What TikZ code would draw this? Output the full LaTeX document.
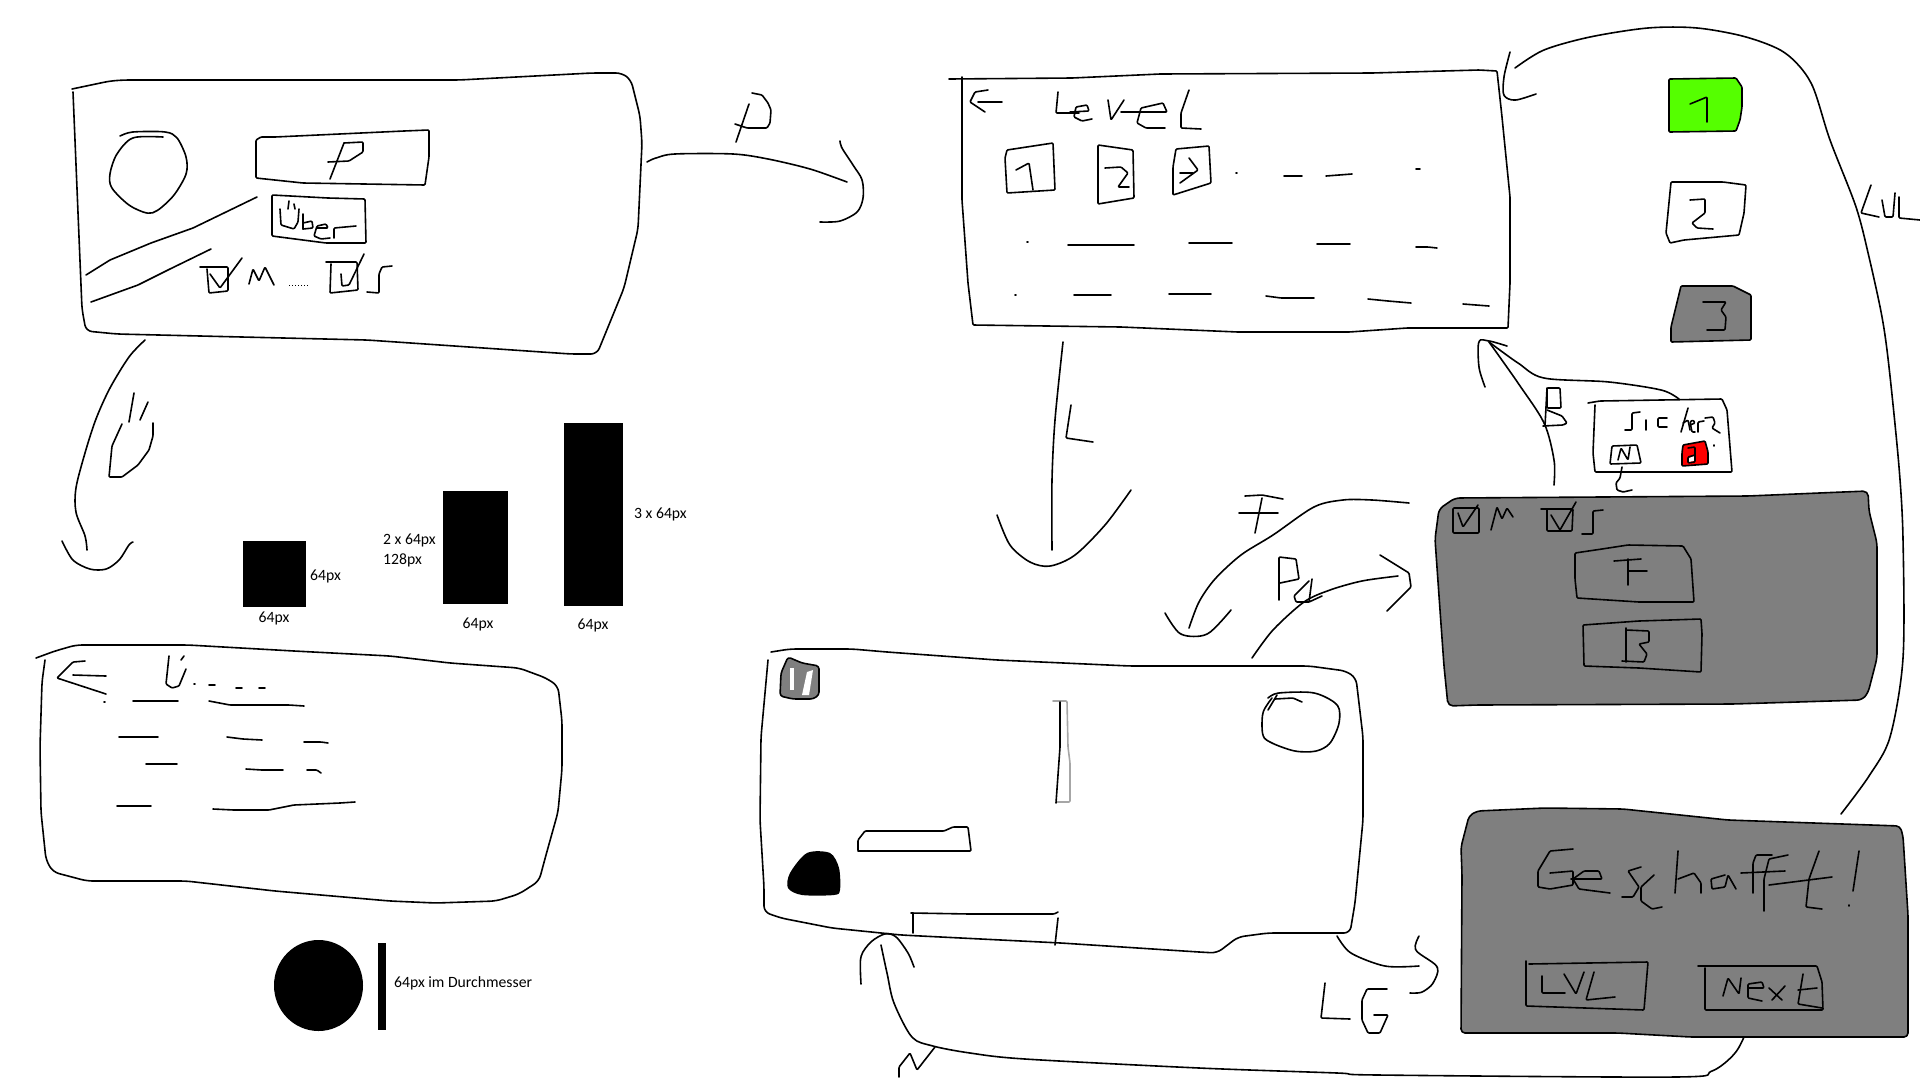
\documentclass[tikz,border=0pt]{standalone}
\usepackage{fontspec}
\setmainfont{Carlito}
\definecolor{panelgray}{HTML}{7F7F7F}
\definecolor{levelgreen}{HTML}{55FF00}
\definecolor{popupred}{HTML}{FF0000}
\tikzset{
    ink/.style={line width=1.6pt,line join=round,line cap=round,rounded corners=1pt},
    sizelabel/.style={inner sep=0pt,font=\fontsize{15.7}{18}\selectfont},
}
\begin{document}
\begin{tikzpicture}[x=1pt,y=-1pt]
    \useasboundingbox (0,0) rectangle (1920,1080);

    % main menu
    \draw[ink,rounded corners=6pt] (72,89) -- (110,81) -- (124,80) -- (459,80) -- (592,73) -- (622,73) -- (631,80) -- (640,116) -- (642,143) -- (638,229) -- (624,288) -- (597,354) -- (571,354) -- (367,340) -- (117,334) -- (86,331) -- (82,309) -- (73,92);
    \draw[ink] plot[smooth] coordinates {(120,136) (133,132) (165,132) (177,138) (186,157) (186,174) (174,195) (158,210) (147,213) (129,205) (112,188) (110,174) (117,154) (133,138) (163,137)};
    \draw[ink] (261,137) -- (275,137) -- (404,131) -- (429,130) -- (429,157) -- (425,185) -- (303,183) -- (256,178) -- (256,140) -- cycle;
    \draw[ink] (344,143) -- (330,179);
    \draw[ink] (344,143) -- (363,142) -- (363,152) -- (349,161) -- (328,162);
    \draw[ink] (272,195) -- (328,198) -- (365,199) -- (366,243) -- (326,243) -- (272,236) -- cycle;
    \draw[ink] (280,209) -- (281,225) -- (294,229) -- (298,222) -- (299,209);
    \draw[ink] (289,201) -- (288,209);
    \draw[ink] (294,204) -- (295,209);
    \draw[ink] (303,214) -- (303,229);
    \draw[ink] (303,223) -- (312,221) -- (313,228) -- (303,229);
    \draw[ink] (317,228) -- (328,228) -- (326,224) -- (317,226) -- (314,236) -- (321,239) -- (330,238);
    \draw[ink] (334,238) -- (334,228) -- (356,226);
    \draw[ink] (86,275) -- (110,260) -- (151,243) -- (193,228) -- (257,197);
    \draw[ink] (91,302) -- (138,285) -- (170,269) -- (211,249);
    \draw[ink] (200,267) -- (228,267) -- (228,291) -- (209,293) -- (207,269);
    \draw[ink] (210,274) -- (220,288) -- (242,258);
    \draw[ink] (249,284) -- (253,269) -- (259,281) -- (265,267) -- (274,285);
    \draw[line width=1pt,dotted] (289,285) -- (308,285);
    \draw[ink] (326,262) -- (357,262) -- (358,290) -- (330,293) -- (331,264);
    \draw[ink] (341,274) -- (342,286) -- (349,285) -- (364,254);
    \draw[ink] (367,292) -- (379,293) -- (379,274) -- (382,267) -- (392,266);

    % menu to level select
    \draw[ink] plot[smooth] coordinates {(647,162) (656,158) (675,154) (733,154) (768,159) (810,169) (847,182)};
    \draw[ink] plot[smooth] coordinates {(840,141) (842,148) (853,165) (862,180) (863,198) (857,212) (840,221) (820,222)};
    \draw[ink] (749,104) -- (736,142);
    \draw[ink] (752,93) -- (762,95) -- (768,103) -- (771,110) -- (770,123) -- (767,128) -- (747,128) -- (735,124);

    % menu to about
    \draw[ink] plot[smooth] coordinates {(145,340) (129,357) (110,388) (96,419) (85,453) (76,488) (76,512) (85,536) (87,550)};
    \draw[ink] plot[smooth] coordinates {(62,541) (73,560) (90,569) (106,569) (119,560) (129,545) (133,542)};
    \draw[ink] (122,424) -- (112,446) -- (109,477) -- (122,477) -- (138,465) -- (149,450) -- (153,436) -- (153,423);
    \draw[ink] (134,393) -- (129,422);
    \draw[ink] (148,402) -- (140,420);

    % size notes
    \fill (243,541) rectangle (306,607);
    \fill (443,491) rectangle (508,604);
    \fill (564,423) rectangle (623,606);
    \fill (318.5,985.5) ellipse (44.5 and 45.5);
    \fill (378,943) rectangle (385.5,1030);
    \node[sizelabel,anchor=west] (boxside) at (310,576.5) {64px};
    \node[sizelabel] (boxbase) at (274,618.5) {64px};
    \node[sizelabel,anchor=west] (tallside) at (383,540.5) {2 x 64px};
    \node[sizelabel,anchor=west] (tallpx) at (383,560.5) {128px};
    \node[sizelabel] (tallbase) at (478,624.5) {64px};
    \node[sizelabel] (longbase) at (593,625.5) {64px};
    \node[sizelabel,anchor=west] (longside) at (634,514.5) {3 x 64px};
    \node[sizelabel,anchor=west] (ballnote) at (394,983) {64px im Durchmesser};

    % about screen
    \draw[ink,rounded corners=6pt] (36,658) -- (55,651) -- (76,645) -- (188,645) -- (294,651) -- (390,656) -- (450,663) -- (519,668) -- (546,678) -- (558,686) -- (562,721) -- (562,769) -- (558,812) -- (546,855) -- (539,881) -- (519,894) -- (496,901) -- (436,903) -- (390,901) -- (275,891) -- (186,881) -- (87,881) -- (53,872) -- (46,860) -- (41,812) -- (40,747) -- (42,682) -- (45,660);
    \draw[ink] (85,661) -- (73,662) -- (57,678) -- (106,694);
    \draw[ink] (73,675) -- (106,676);
    \draw[ink] (169,656) -- (166,684) -- (172,688) -- (179,686) -- (186,669);
    \draw[ink] (184,656) -- (181,660);
    \draw[ink] (194,684) -- (195,684);
    \draw[ink] (209,685) -- (215,685);
    \draw[ink] (236,688) -- (242,688);
    \draw[ink] (259,688) -- (265,688);
    \draw[ink] (104,702) -- (105,702);
    \draw[ink] (133,701) -- (178,701);
    \draw[ink] (209,701) -- (230,705) -- (289,705) -- (304,706);
    \draw[ink] (119,737) -- (158,737);
    \draw[ink] (227,737) -- (243,739) -- (262,740);
    \draw[ink] (304,742) -- (321,742) -- (328,743);
    \draw[ink] (146,764) -- (177,764);
    \draw[ink] (246,769) -- (262,770) -- (283,770);
    \draw[ink] (307,770) -- (317,770) -- (321,773);
    \draw[ink] (117,806) -- (151,806);
    \draw[ink] (213,809) -- (234,810) -- (269,810) -- (294,805) -- (340,803) -- (355,802);

    % level select
    \draw[ink] (949,79) -- (1072,78) -- (1160,74) -- (1372,73) -- (1479,70) -- (1497,71) -- (1502,117) -- (1510,197) -- (1510,283) -- (1508,328) -- (1407,328) -- (1349,332) -- (1238,332) -- (1121,327) -- (973,325) -- (968,283) -- (962,200) -- (962,77);
    \draw[ink] (988,90) -- (975,92) -- (970,102) -- (985,112);
    \draw[ink] (978,102) -- (1002,102);
    \draw[ink] (1058,92) -- (1056,113) -- (1079,113);
    \draw[ink] (1070,112) -- (1089,111) -- (1087,105) -- (1076,107) -- (1074,117) -- (1082,121) -- (1092,119);
    \draw[ink] (1108,100) -- (1111,120) -- (1124,100);
    \draw[ink] (1121,112) -- (1167,112) -- (1163,103) -- (1141,108) -- (1137,123) -- (1146,128) -- (1165,128);
    \draw[ink] (1189,90) -- (1181,113) -- (1181,128) -- (1201,129);
    \draw[ink] (1007,150) -- (1053,143) -- (1055,190) -- (1007,193) -- (1005,158) -- cycle;
    \draw[ink] (1016,170) -- (1029,163) -- (1033,190);
    \draw[ink] (1098,145) -- (1133,150) -- (1134,198) -- (1098,204) -- cycle;
    \draw[ink] (1105,168) -- (1121,167) -- (1128,173) -- (1118,187) -- (1129,187);
    \draw[ink] (1176,149) -- (1209,146) -- (1211,183) -- (1173,195) -- (1173,167) -- cycle;
    \draw[ink] (1189,158) -- (1198,170) -- (1180,183);
    \draw[ink] (1180,173) -- (1193,173);
    \draw[ink] (1236,173) -- (1237,173);
    \draw[ink] (1284,176) -- (1302,176);
    \draw[ink] (1326,176) -- (1352,174);
    \draw[ink] (1416,169) -- (1420,169);
    \draw[ink] (1027,242) -- (1028,242);
    \draw[ink] (1068,245) -- (1134,245);
    \draw[ink] (1189,243) -- (1232,243);
    \draw[ink] (1317,244) -- (1350,244);
    \draw[ink] (1416,247) -- (1428,247) -- (1437,248);
    \draw[ink] (1015,295) -- (1016,295);
    \draw[ink] (1074,295) -- (1111,295);
    \draw[ink] (1169,294) -- (1211,294);
    \draw[ink] (1266,296) -- (1281,298) -- (1314,298);
    \draw[ink] (1368,299) -- (1388,301) -- (1411,303);
    \draw[ink] (1463,304) -- (1489,306);

    % level states
    \draw[ink,fill=levelgreen] (1669,79) -- (1736,78) -- (1742,87) -- (1742,107) -- (1740,120) -- (1736,131) -- (1669,132) -- cycle;
    \draw[ink] (1690,104) -- (1707,97) -- (1707,122);
    \draw[ink] (1671,182) -- (1723,182) -- (1746,185) -- (1744,213) -- (1739,235) -- (1684,240) -- (1670,243) -- (1666,233) -- cycle;
    \draw[ink] (1690,200) -- (1705,199) -- (1705,213) -- (1692,223) -- (1697,228) -- (1713,229);
    \draw[ink,fill=panelgray] (1681,286) -- (1733,286) -- (1751,295) -- (1751,340) -- (1671,342) -- (1671,327) -- cycle;
    \draw[ink] (1703,302) -- (1726,302) -- (1721,310) -- (1726,317) -- (1725,330) -- (1707,330);

    % won screen back to level select
    \draw[ink] plot[smooth] coordinates {(1841,814) (1869,776) (1890,737) (1903,658) (1903,539) (1899,467) (1889,367) (1882,317) (1869,257) (1856,207) (1830,140) (1811,83) (1785,53) (1746,37) (1697,28) (1648,28) (1590,37) (1544,50) (1515,68)};
    \draw[ink] plot[smooth] coordinates {(1510,52) (1504,77) (1504,95) (1515,100) (1536,94)};
    \draw[ink] (1871,185) -- (1861,213) -- (1879,217);
    \draw[ink] (1882,200) -- (1885,217) -- (1893,217) -- (1895,193);
    \draw[ink] (1899,197) -- (1899,218) -- (1920,220);

    % back with question
    \draw[ink] plot[smooth] coordinates {(1679,399) (1661,390) (1609,382) (1544,378) (1518,363) (1489,342)};
    \draw[ink] plot[smooth] coordinates {(1489,342) (1518,383) (1544,423) (1554,460) (1554,485)};
    \draw[ink] plot[smooth] coordinates {(1485,387) (1479,367) (1479,342) (1489,341) (1507,346)};
    \draw[ink] (1547,388) -- (1560,388) -- (1561,408) -- (1547,408) -- cycle;
    \draw[ink] (1547,388) -- (1545,426);
    \draw[ink] (1547,410) -- (1562,416) -- (1567,423) -- (1563,425) -- (1543,426);
    \draw[ink] (1588,403) -- (1600,401) -- (1722,399) -- (1727,410) -- (1732,472) -- (1595,472) -- (1593,453) -- (1595,405);
    \draw[ink] (1625,430) -- (1632,430) -- (1632,413) -- (1640,412);
    \draw[ink] (1646,420) -- (1646,430);
    \draw[ink] (1667,418) -- (1658,418) -- (1658,427) -- (1667,427);
    \draw[ink] (1688,408) -- (1681,432);
    \draw[ink] (1683,423) -- (1688,420) -- (1690,430);
    \draw[ink] (1690,425) -- (1695,423) -- (1693,420) -- (1690,422) -- (1692,432) -- (1695,432);
    \draw[ink] (1698,432) -- (1698,422) -- (1704,421);
    \draw[ink] (1705,418) -- (1713,417) -- (1715,423) -- (1712,428) -- (1720,433);
    \draw[ink] (1714,445) -- (1714,446);
    \draw[ink] (1612,446) -- (1637,445) -- (1641,463) -- (1610,464) -- cycle;
    \draw[ink] (1618,460) -- (1621,448) -- (1628,460) -- (1630,447);
    \draw[ink,fill=popupred] (1683,445) -- (1705,441) -- (1708,452) -- (1708,464) -- (1682,466) -- (1682,453) -- cycle;
    \fill[white] (1689,458) -- (1694,456) -- (1694,461) -- (1689,462) -- cycle;
    \draw[ink] (1688,448) -- (1695,447) -- (1695,462) -- (1688,463) -- (1688,457) -- (1695,455);
    \draw[ink] (1622,467) -- (1620,478) -- (1616,483) -- (1617,490) -- (1623,492) -- (1632,490);

    % pause menu
    \draw[ink,rounded corners=5pt,fill=panelgray] (1455,498) -- (1748,496) -- (1843,492) -- (1868,491) -- (1869,511) -- (1877,543) -- (1877,658) -- (1868,693) -- (1862,700) -- (1733,704) -- (1477,705) -- (1448,706) -- (1444,666) -- (1440,610) -- (1435,539) -- (1439,509) -- cycle;
    \draw[ink] (1453,508) -- (1479,508) -- (1479,533) -- (1453,533) -- cycle;
    \draw[ink] (1458,513) -- (1463,527) -- (1478,505);
    \draw[ink] (1491,530) -- (1497,507) -- (1502,519) -- (1507,508) -- (1513,517);
    \draw[ink] (1541,509) -- (1573,509) -- (1572,531) -- (1547,531) -- (1547,509);
    \draw[ink] (1551,515) -- (1560,530) -- (1576,502);
    \draw[ink] (1582,534) -- (1593,534) -- (1593,511) -- (1603,510);
    \draw[ink] (1575,553) -- (1602,549) -- (1628,545) -- (1683,546) -- (1691,559) -- (1694,602) -- (1639,602) -- (1577,598) -- (1575,579) -- cycle;
    \draw[ink] (1614,561) -- (1641,559);
    \draw[ink] (1628,559) -- (1628,585);
    \draw[ink] (1628,571) -- (1647,571);
    \draw[ink] (1583,625) -- (1639,621) -- (1701,619) -- (1702,634) -- (1701,672) -- (1639,668) -- (1584,666) -- cycle;
    \draw[ink] (1626,628) -- (1626,662);
    \draw[ink] (1626,630) -- (1649,631) -- (1649,642) -- (1639,644) -- (1647,654) -- (1644,662) -- (1622,661);

    % pause arrows
    \draw[ink] plot[smooth] coordinates {(1409,503) (1372,500) (1343,500) (1314,507) (1273,535) (1241,555) (1215,579) (1199,602) (1189,628)};
    \draw[ink] plot[smooth] coordinates {(1165,613) (1181,634) (1207,634) (1231,610)};
    \draw[ink] (1245,496) -- (1262,495) -- (1283,499);
    \draw[ink] (1262,498) -- (1255,533);
    \draw[ink] (1239,513) -- (1278,513);
    \draw[ink] (1279,600) -- (1279,557) -- (1296,559) -- (1299,579) -- (1280,583);
    \draw[ink] (1309,581) -- (1294,596) -- (1296,602) -- (1309,602);
    \draw[ink] (1312,579) -- (1309,602) -- (1322,596);
    \draw[ink] plot[smooth] coordinates {(1252,658) (1273,630) (1304,602) (1330,590) (1362,581) (1398,576)};
    \draw[ink] (1380,555) -- (1409,573) -- (1411,587) -- (1387,611);

    % level select to game
    \draw[ink] plot[smooth] coordinates {(1063,342) (1055,420) (1052,480) (1052,550)};
    \draw[ink] (1071,405) -- (1066,438) -- (1093,442);
    \draw[ink] plot[smooth] coordinates {(997,515) (1010,545) (1030,562) (1050,566) (1075,555) (1105,525) (1131,490)};

    % game screen
    \draw[ink,rounded corners=6pt] (771,652) -- (790,649) -- (852,649) -- (887,652) -- (997,660) -- (1130,666) -- (1309,666) -- (1346,671) -- (1356,678) -- (1363,737) -- (1363,820) -- (1355,903) -- (1350,933) -- (1268,933) -- (1238,937) -- (1217,953) -- (1199,952) -- (1061,943) -- (901,935) -- (832,928) -- (781,918) -- (764,912) -- (764,887) -- (760,820) -- (761,737) -- (768,660);
    \draw[ink,rounded corners=3pt,fill=panelgray] (788,657) -- (802,663) -- (819,666) -- (819,695) -- (813,699) -- (793,699) -- (780,696) -- (781,673) -- cycle;
    \fill[white] (790,668) -- (794,668) -- (794,690) -- (790,690) -- cycle;
    \fill[white] (807,672) -- (813,670) -- (809,695) -- (802,695) -- cycle;
    \draw[ink,gray!70] (1053,701) -- (1067,701) -- (1068,747) -- (1070,763) -- (1070,802) -- (1057,802);
    \draw[ink] (1060,702) -- (1060,747) -- (1056,803);
    \draw[ink] plot[smooth] coordinates {(1268,698) (1279,693) (1314,693) (1337,705) (1339,723) (1330,743) (1316,751) (1295,751) (1272,743) (1263,735) (1263,713) (1272,698)};
    \draw[ink] (1268,710) -- (1277,695);
    \draw[ink] (1275,699) -- (1293,698) -- (1302,702);
    \draw[ink] (858,850) -- (858,840) -- (865,831) -- (944,831) -- (953,827) -- (968,827) -- (971,851) -- (858,851);
    \fill plot[smooth cycle] coordinates {(807,853) (830,853) (839,868) (840,890) (834,895) (802,895) (788,888) (790,873)};
    \draw[ink] (911,913) -- (970,914) -- (1054,914) -- (1058,912);
    \draw[ink] (913,913) -- (913,933);
    \draw[ink] (1058,918) -- (1055,945);

    % game to won screen
    \draw[ink] plot[smooth] coordinates {(1337,936) (1351,953) (1385,966) (1419,966)};
    \draw[ink] plot[smooth] coordinates {(1419,936) (1416,950) (1437,967) (1433,983) (1422,992) (1410,993)};
    \draw[ink] (1325,983) -- (1321,1018) -- (1350,1019);
    \draw[ink] (1387,989) -- (1367,989) -- (1362,1000) -- (1362,1020) -- (1368,1033) -- (1380,1033) -- (1388,1015) -- (1374,1015);

    % next back to game
    \draw[ink] plot[smooth] coordinates {(1747,1014) (1747,1029) (1735,1053) (1712,1071) (1675,1077) (1378,1075) (1337,1073) (1199,1068) (1025,1059) (970,1053) (933,1046) (912,1037) (894,1003) (887,973) (881,945)};
    \draw[ink] plot[smooth] coordinates {(861,984) (861,957) (871,942) (885,934) (896,937) (908,953) (914,967)};
    \draw[ink] (899,1077) -- (899,1067) -- (910,1053) -- (917,1070) -- (935,1047);

    % won screen
    \draw[ink,rounded corners=4pt,fill=panelgray] (1469,816) -- (1477,811) -- (1545,808) -- (1623,809) -- (1728,820) -- (1900,826) -- (1903,836) -- (1908,915) -- (1908,1037) -- (1691,1037) -- (1618,1033) -- (1461,1033) -- (1462,875) -- (1461,847) -- cycle;
    \draw[ink] (1573,849) -- (1550,851) -- (1538,871) -- (1538,887) -- (1550,889) -- (1573,885) -- (1573,871) -- (1550,873);
    \draw[ink] (1571,879) -- (1602,879) -- (1599,871) -- (1584,871) -- (1573,879) -- (1579,889) -- (1610,893);
    \draw[ink] (1641,867) -- (1628,871) -- (1639,887) -- (1633,897) -- (1622,897);
    \draw[ink] (1654,875) -- (1641,887) -- (1641,901) -- (1652,909) -- (1662,907);
    \draw[ink] (1678,851) -- (1675,893);
    \draw[ink] (1678,879) -- (1694,873) -- (1701,883) -- (1701,893);
    \draw[ink] (1725,875) -- (1711,879) -- (1712,889) -- (1725,887) -- (1728,875) -- (1736,889);
    \draw[ink] (1772,855) -- (1756,855) -- (1753,863) -- (1753,893);
    \draw[ink] (1741,873) -- (1785,871);
    \draw[ink] (1788,855) -- (1769,859) -- (1764,879) -- (1764,911);
    \draw[ink] (1819,851) -- (1809,879) -- (1806,907) -- (1822,909);
    \draw[ink] (1769,885) -- (1832,877);
    \draw[ink] (1859,851) -- (1853,891);
    \draw[ink] (1849,905) -- (1849,906);
    \draw[ink] (1526,961) -- (1526,1006) -- (1644,1010) -- (1648,962) -- (1529,964);
    \draw[ink] (1542,976) -- (1542,993) -- (1565,993);
    \draw[ink] (1564,974) -- (1576,994) -- (1584,972);
    \draw[ink] (1594,972) -- (1586,1000) -- (1615,997);
    \draw[ink] (1698,966) -- (1817,966) -- (1822,982) -- (1823,1010) -- (1705,1010) -- (1705,968);
    \draw[ink] (1723,996) -- (1728,978) -- (1739,994) -- (1741,978);
    \draw[ink] (1748,988) -- (1764,988) -- (1762,982) -- (1748,984) -- (1748,998) -- (1762,1001);
    \draw[ink] (1769,988) -- (1782,1000);
    \draw[ink] (1785,986) -- (1772,1000);
    \draw[ink] (1803,974) -- (1798,1004) -- (1822,1008);
    \draw[ink] (1798,990) -- (1817,988);
\end{tikzpicture}
\end{document}
